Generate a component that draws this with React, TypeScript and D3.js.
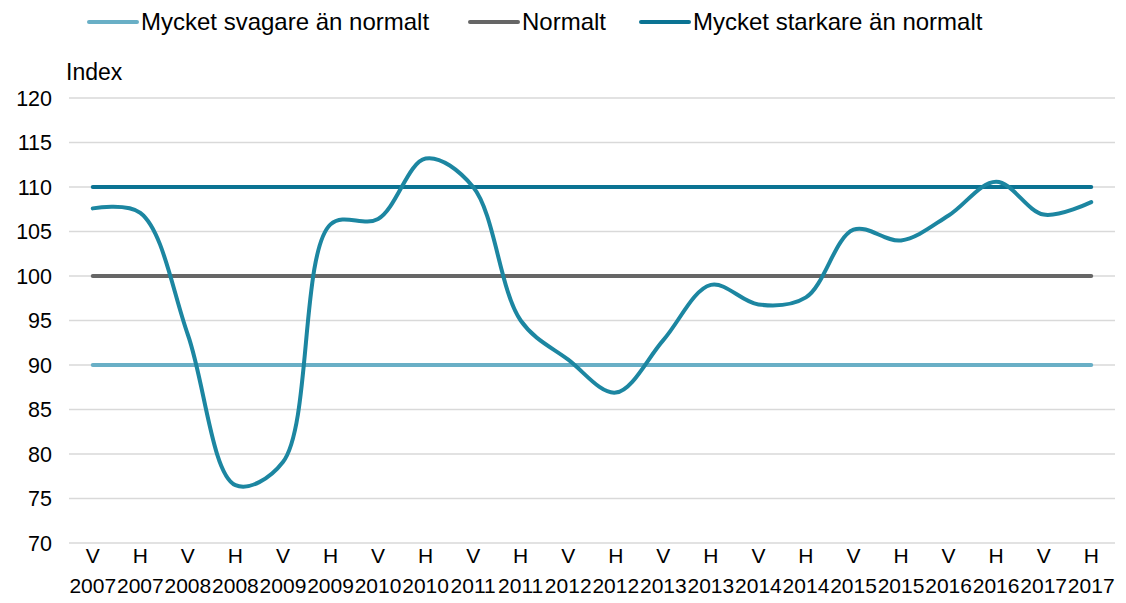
import React from "react";
import * as d3 from "d3";

const periods = ["V", "H", "V", "H", "V", "H", "V", "H", "V", "H", "V", "H", "V", "H", "V", "H", "V", "H", "V", "H", "V", "H"];
const years = ["2007", "2007", "2008", "2008", "2009", "2009", "2010", "2010", "2011", "2011", "2012", "2012", "2013", "2013", "2014", "2014", "2015", "2015", "2016", "2016", "2017", "2017"];
const indexValues = [107.6, 107.1, 93.4, 76.5, 79.1, 105.8, 106.4, 113.2, 110.0, 95.0, 90.6, 86.9, 92.8, 99.0, 96.8, 97.6, 105.2, 104.0, 106.8, 110.6, 106.9, 108.3];
const refNames = ["Mycket svagare än normalt", "Normalt", "Mycket starkare än normalt"];
const refValues = [90, 100, 110];
const refColors = ["#69afc6", "#666666", "#0b7393"];
const yTicks = [70, 75, 80, 85, 90, 95, 100, 105, 110, 115, 120];

const W = 1126;
const H = 603;
const margin = { top: 98, right: 11, bottom: 60, left: 69 };
const font = "'Liberation Sans', Arial, sans-serif";

export default function App() {
  const keys = periods.map((p, i) => i);

  const x = d3
    .scaleBand<number>()
    .domain(keys)
    .range([margin.left, W - margin.right]);

  const y = d3
    .scaleLinear()
    .domain([70, 120])
    .range([H - margin.bottom, margin.top]);

  const cx = (i: number) => (x(i) as number) + x.bandwidth() / 2;

  const line = d3
    .line<number>()
    .x((d, i) => cx(i))
    .y((d) => y(d))
    .curve(d3.curveCatmullRom.alpha(0.5));

  // legend sample positions
  const legendX = [89, 470, 641];

  return (
    <svg
      width={W}
      height={H}
      style={{ position: "absolute", left: 0, top: 0, background: "#fff" }}
      fontFamily={font}
    >
      {refNames.map((name, i) => (
        <g key={name} transform={`translate(${legendX[i]},22)`}>
          <line x1={0} x2={48} y1={0} y2={0} stroke={refColors[i]} strokeWidth={4} strokeLinecap="round" />
          <text x={52} y={0} dy="0.35em" fontSize={24} fill="#000">
            {name}
          </text>
        </g>
      ))}

      <text x={66} y={72} dy="0.35em" fontSize={23} fill="#000">
        Index
      </text>

      {/* grid + y labels */}
      {yTicks.map((t) => (
        <g key={t}>
          <line
            x1={margin.left}
            x2={W - margin.right}
            y1={y(t)}
            y2={y(t)}
            stroke="#d9d9d9"
            strokeWidth={1.5}
          />
          <text x={52} y={y(t)} dy="0.35em" textAnchor="end" fontSize={21.5} fill="#000">
            {t}
          </text>
        </g>
      ))}

      {refValues.map((v, i) => (
        <line
          key={v}
          x1={cx(0)}
          x2={cx(keys.length - 1)}
          y1={y(v)}
          y2={y(v)}
          stroke={refColors[i]}
          strokeWidth={4}
          strokeLinecap="round"
        />
      ))}

      <path d={line(indexValues) || ""} fill="none" stroke="#1c86a1" strokeWidth={4} strokeLinecap="round" />

      {keys.map((i) => (
        <g key={i}>
          <text x={cx(i)} y={556} dy="0.35em" textAnchor="middle" fontSize={21} fill="#000">
            {periods[i]}
          </text>
          <text x={cx(i)} y={586} dy="0.35em" textAnchor="middle" fontSize={21} fill="#000">
            {years[i]}
          </text>
        </g>
      ))}
    </svg>
  );
}
